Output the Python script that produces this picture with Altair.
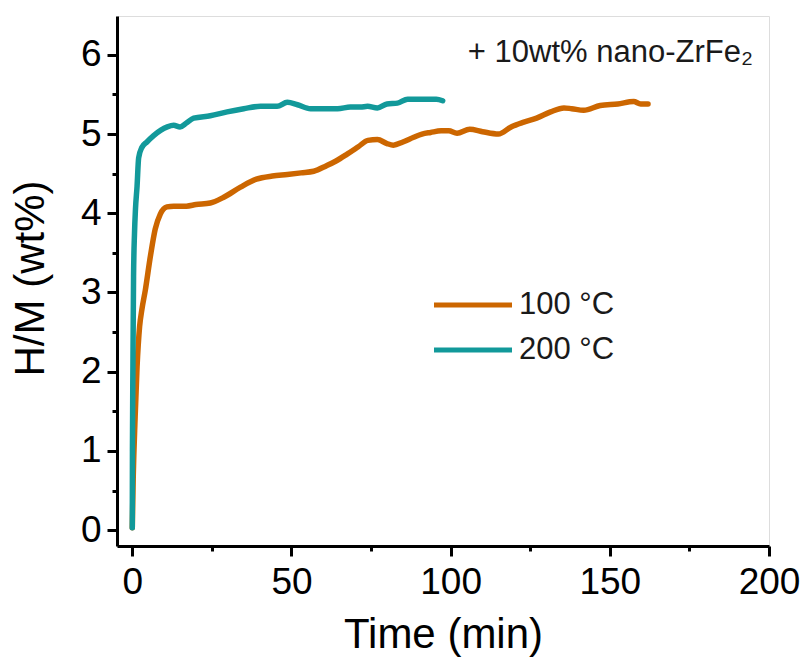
import altair as alt
import pandas as pd

# ---- data ----
time_100 = [0, 0.3, 0.9, 1.5, 2.3, 3.0, 4.1, 5.7, 7.2, 8.8, 10.9, 13, 17, 20, 24.5, 28.6, 34, 39,
            44, 48.7, 53, 57, 61, 64, 67.6, 71, 74, 77, 80, 82, 85, 88.4, 91, 93.7, 97, 99.4,
            102, 106, 110, 115, 119, 123, 127, 131.4, 135.6, 138, 141.8, 147, 152.5, 157.5, 159.7, 162]
hm_100 = [0.03, 0.67, 1.43, 2.06, 2.57, 2.78, 3.03, 3.46, 3.8, 3.99, 4.08, 4.09, 4.09, 4.11, 4.13, 4.2, 4.33, 4.43,
          4.47, 4.49, 4.51, 4.53, 4.6, 4.66, 4.75, 4.84, 4.92, 4.93, 4.88, 4.86, 4.9, 4.96, 5.0, 5.02, 5.04, 5.04,
          5.01, 5.06, 5.03, 5.0, 5.09, 5.15, 5.2, 5.28, 5.33, 5.32, 5.3, 5.36, 5.38, 5.41, 5.38, 5.38]

time_200 = [0, 0.05, 0.2, 0.4, 0.7, 1.0, 1.5, 2.0, 3.0, 4.6, 6.7, 9, 11, 13, 15, 17, 19.3, 24.5, 29.8,
            35, 40.3, 45.5, 48.7, 51.9, 56, 60, 64.5, 68.5, 71.7, 73.9, 77, 80, 83.3, 86.5, 92.8, 95.5, 97.5]
hm_200 = [0.03, 1.0, 2.06, 3.2, 3.75, 4.05, 4.34, 4.7, 4.83, 4.9, 4.98, 5.05, 5.09, 5.11, 5.09, 5.14, 5.2, 5.23, 5.28,
          5.32, 5.35, 5.35, 5.4, 5.37, 5.32, 5.32, 5.32, 5.34, 5.34, 5.35, 5.33, 5.38, 5.39, 5.44, 5.44, 5.44, 5.42]

series_labels = ["100 °C", "200 °C"]
series_colors = ["#CC6600", "#12999A"]
x_major = [0, 50, 100, 150, 200]
x_minor = [25, 75, 125, 175]
y_major = [0, 1, 2, 3, 4, 5, 6]
y_minor = [0.5, 1.5, 2.5, 3.5, 4.5, 5.5]
annotation = "+ 10wt% nano-ZrFe\u2082"

rows = []
for t, h in zip(time_100, hm_100):
    rows.append({"time": t, "hm": h, "series": series_labels[0]})
for t, h in zip(time_200, hm_200):
    rows.append({"time": t, "hm": h, "series": series_labels[1]})
df = pd.DataFrame(rows)

FONT = "Liberation Sans"
x_scale = alt.Scale(domain=[-4.8, 200], nice=False, zero=False)
y_scale = alt.Scale(domain=[-0.2, 6.49], nice=False, zero=False)

lines = alt.Chart(df).mark_line(strokeWidth=5.5, strokeCap="round", strokeJoin="round",
                                interpolate="monotone").encode(
    x=alt.X("time:Q", scale=x_scale,
            axis=alt.Axis(values=x_major, title="Time (min)", grid=False, orient="bottom",
                          tickSize=10, tickWidth=3, tickColor="black",
                          domainWidth=3, domainColor="black",
                          labelFontSize=37, labelFont=FONT, labelColor="black", labelPadding=8,
                          labelFlush=False,
                          titleFontSize=42, titleFont=FONT, titleFontWeight="normal", titleColor="black",
                          titleX=326, titleY=101, titleBaseline="alphabetic", titleAlign="center")),
    y=alt.Y("hm:Q", scale=y_scale,
            axis=alt.Axis(values=y_major, title="H/M (wt%)", grid=False, orient="left",
                          tickSize=10, tickWidth=3, tickColor="black",
                          domainWidth=3, domainColor="black",
                          labelFontSize=37, labelFont=FONT, labelColor="black", labelPadding=6,
                          labelFlush=False,
                          titleFontSize=42, titleFont=FONT, titleFontWeight="normal", titleColor="black",
                          titleX=-74, titleY=262, titleAngle=270, titleBaseline="alphabetic",
                          titleAlign="center")),
    color=alt.Color("series:N",
                    scale=alt.Scale(domain=series_labels, range=series_colors),
                    legend=alt.Legend(title=None, orient="none", legendX=314, legendY=267,
                                      symbolType="M-2,0H2", symbolSize=1521, symbolStrokeWidth=5,
                                      symbolOffset=20,
                                      labelFontSize=31, labelFont=FONT, labelColor="#1a1a1a",
                                      labelOffset=24, rowPadding=8, padding=0)),
)

minor = alt.Chart(df).mark_point(opacity=0).encode(
    x=alt.X("time:Q", scale=x_scale,
            axis=alt.Axis(values=x_minor, title=None, labels=False, grid=False, orient="bottom",
                          tickSize=5, tickWidth=3, tickColor="black", domain=False)),
    y=alt.Y("hm:Q", scale=y_scale,
            axis=alt.Axis(values=y_minor, title=None, labels=False, grid=False, orient="left",
                          tickSize=5, tickWidth=3, tickColor="black", domain=False)),
)

chart = alt.layer(lines, minor).resolve_axis(x="independent", y="independent").properties(
    width=652,
    height=530,
    autosize=alt.AutoSizeParams(type="none"),
    padding={"left": 117, "top": 16, "right": 37, "bottom": 111},
    title=alt.TitleParams(text=annotation, anchor="end", orient="top", frame="group",
                          fontSize=31, font=FONT, fontWeight="normal", color="#1a1a1a",
                          offset=0, dy=77, dx=-16, baseline="alphabetic"),
).configure_view(stroke="black", strokeWidth=3).configure(background="white")

chart.save("out.html", embed_options={"renderer": "svg", "actions": False})
